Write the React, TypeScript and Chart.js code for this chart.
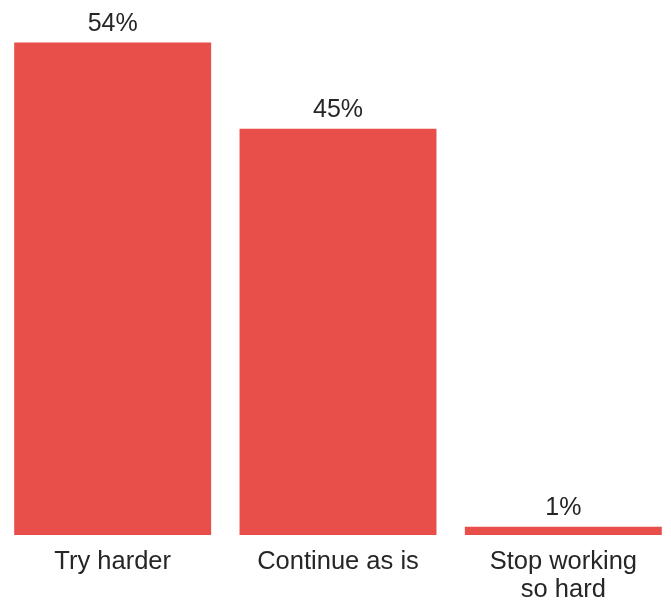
import React, { useEffect, useRef } from "react";
import { Chart, registerables } from "chart.js";

Chart.register(...registerables);

const categories: (string | string[])[] = ["Try harder", "Continue as is", ["Stop working", "so hard"]];
const shares: number[] = [54.3, 44.8, 0.9];
const valueLabels: string[] = ["54%", "45%", "1%"];

const BAR_COLOR = "#E84F4A";
const TEXT_COLOR = "#262626";
const FONT_FAMILY = '"Liberation Sans", Arial, Helvetica, sans-serif';

const valueLabelPlugin = {
  id: "valueLabels",
  afterDatasetsDraw(chart: any) {
    const ctx = chart.ctx;
    const meta = chart.getDatasetMeta(0);
    ctx.save();
    ctx.fillStyle = TEXT_COLOR;
    ctx.font = `25px ${FONT_FAMILY}`;
    ctx.textAlign = "center";
    ctx.textBaseline = "alphabetic";
    meta.data.forEach((bar: any, i: number) => {
      ctx.fillText(valueLabels[i], bar.x, bar.y - 11.5);
    });
    ctx.restore();
  },
};

export default function App() {
  const canvasRef = useRef<HTMLCanvasElement | null>(null);

  useEffect(() => {
    if (!canvasRef.current) return;
    const chart = new Chart(canvasRef.current, {
      type: "bar",
      data: {
        labels: categories as any,
        datasets: [
          {
            data: shares,
            backgroundColor: BAR_COLOR,
            borderWidth: 0,
            barPercentage: 0.874,
            categoryPercentage: 1,
          },
        ],
      },
      options: {
        responsive: false,
        animation: false,
        devicePixelRatio: 1,
        layout: { padding: { top: 0, bottom: 1, left: 0, right: 0 } },
        plugins: {
          legend: { display: false },
          tooltip: { enabled: false },
        },
        scales: {
          x: {
            grid: { display: false, drawTicks: false },
            border: { display: false },
            ticks: {
              color: TEXT_COLOR,
              font: { family: FONT_FAMILY, size: 25.5, lineHeight: 1.1 },
              padding: 13,
              maxRotation: 0,
              autoSkip: false,
            },
            afterFit: (scale: any) => {
              scale.height = 69;
            },
          },
          y: {
            display: false,
            min: 0,
            max: 59,
          },
        },
      },
      plugins: [valueLabelPlugin],
    });
    return () => chart.destroy();
  }, []);

  return (
    <div
      style={{
        position: "absolute",
        left: 0,
        top: 0,
        width: 671,
        height: 605,
        overflow: "hidden",
        background: "#ffffff",
      }}
    >
      <canvas ref={canvasRef} width={676} height={605} style={{ display: "block", width: 676, height: 605 }} />
    </div>
  );
}
